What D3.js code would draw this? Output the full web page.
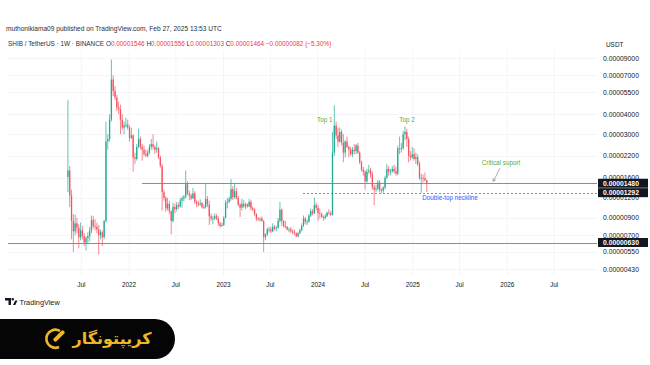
<!DOCTYPE html>
<html><head><meta charset="utf-8">
<script src="https://cdn.jsdelivr.net/npm/d3@7"></script>
<style>html,body{margin:0;padding:0;background:#fff;overflow:hidden}svg{display:block;font-family:"Liberation Sans",Arial,sans-serif}</style>
</head><body>
<svg id="chart" width="650" height="365"></svg>
<script>
// ---------- DATA (prices in millionths of USDT, weekly candles from first week) ----------
const firstWeek = "2021-05-10";
const priceUnit = 1e-6;
const opens = [16.2,17.8,12.4,8.6,7.4,8.3,7.8,6.8,7.5,6.9,6.3,6.7,6.9,7.5,8.7,8.0,7.9,7.6,7.0,7.3,
6.8,8.6,27,28,37,66,56,51,44,43,37,33,34,34.5,33,28.5,29.5,21.5,21,25,
28,25,24,22.5,22,23,25,26,25,24,24.5,21.5,19,13,12,10.3,11,9.9,8.6,10.5,
10.2,10.8,10.6,11.5,11.9,12.2,14.6,12.7,12.4,11.9,12.8,11.3,11,10.9,11.1,10.5,10.5,11.8,10.9,9.2,
8.9,8.9,9.2,8.9,8.3,8.0,8.1,9.0,11.2,11.3,11.8,13.6,12.1,13.2,12.0,10.9,10.4,11.0,10.6,10.9,
10.6,11.3,10.3,10.1,9.5,8.9,8.8,8.9,8.6,6.8,7.1,7.6,7.6,7.4,7.9,7.7,7.8,8.6,10.1,8.6,
8.0,7.9,7.6,7.6,7.4,7.3,7.2,6.9,7.2,7.5,8.0,8.9,8.5,8.5,9.3,9.9,9.6,10.8,10.4,9.6,
9.5,9.1,9.0,9.2,9.7,9.6,9.4,23,34,29.5,27,31,26.5,23,27,25,24,22.5,24,23.5,
25.5,23,20,18,17.5,15.2,17.5,17.8,16.8,14,13.5,13.7,15,13.4,13.3,13.9,16,18.2,17.4,17.5,
18.2,17.6,17,24.5,24.2,24.6,30,31,28,22,21.5,22.5,21,21.5,19.5,16,16,15.9,15.46];
const highs = [49,19.0,13.5,9.5,9.4,9.0,8.2,8.4,8.0,7.2,6.9,7.3,7.9,9.3,9.2,8.8,8.4,8.1,7.6,7.5,
8.7,36,30,40,88,70,60,53,48,46,40,36,38,37,34,33,30,23,26,32.5,
29,26,25.5,24,24,26,28,30,25.5,27,25,22,19.5,13.5,12.3,12,11.5,10,11.2,11,
11.3,11.2,12,12.3,12.5,17.8,15.2,13.3,12.8,13.8,13.2,11.6,11.5,11.7,11.3,10.9,14.6,12.3,11.5,9.6,
9.3,9.6,9.5,9.2,8.5,8.4,9.2,11.6,12,12.2,15.7,14.2,14.7,13.8,12.3,11.1,11.8,11.6,11.2,11.1,
11.8,11.6,10.6,10.3,9.6,9.1,9.0,9.2,8.7,7.2,7.8,7.9,7.9,8.3,8.1,8.0,9.0,11.3,10.3,8.7,
8.6,8.0,7.8,7.9,7.6,7.6,7.3,7.3,7.7,8.3,9.3,9.1,8.8,9.5,10.3,10.2,12.0,11.2,10.8,10.3,
9.7,9.3,9.5,9.8,10.2,9.9,31,45.5,36,33,33,32,30,27.5,29,25.5,25,25,26,26,
26.5,23.5,20.5,18.7,17.8,18.2,19.3,18.5,17.5,14.5,14.5,15.5,15.5,13.8,14.2,16.5,19.5,18.9,18.2,19,
19.3,18.8,25.5,29,26.5,31.5,33.5,32.5,29,23.5,25,24.5,23,22.5,20.3,17,16.8,17.3,15.56];
const lows = [13.0,10.5,6.6,5.5,7.0,7.2,5.8,6.5,6.6,6.0,5.6,6.2,6.4,7.2,7.7,7.5,7.2,5.3,6.6,6.0,
6.6,8.4,24,27,36,52,49,42,40,30,32,30,33,32,27,28,17.5,19.5,20.5,24.5,
24,20.5,22,21.5,21.5,22.5,24,24,22.5,23,21,18.5,10,11.5,9.8,10,9.5,7.1,8.4,9.6,
9.9,10.2,10.4,10.4,11.4,11.9,12.5,11.6,11.6,11.8,11,10.5,10.6,10.7,10.3,10.2,10.3,10.5,8.1,8.6,
8.2,8.7,8.7,8.0,7.8,7.9,8.0,8.9,10.3,11.1,11.5,11.6,11.8,11.7,10.6,9.1,10.0,10.4,10.2,10.4,
10.5,10.0,9.9,9.2,8.6,8.6,8.5,8.5,5.5,6.5,6.9,7.3,7.2,7.3,7.5,7.4,7.7,8.4,8.0,7.8,
7.7,7.5,7.3,7.2,7.1,7.0,6.8,6.8,7.1,7.4,7.9,8.2,8.1,8.4,9.1,9.3,9.5,10.0,8.6,8.9,
9.0,8.6,8.8,9.1,9.4,9.2,9.3,22,28,25,26.5,25.5,20,21.5,24.5,21.5,22,21.5,22.5,22.5,
22.5,19.5,17.5,16.5,13.5,14.9,17,16,13.5,10.8,13,13.4,13,12.8,12.9,13.5,15.8,16.5,16.6,17.3,
17,16.5,16.6,22.5,23,24,27.5,25,20,20.5,21,20.5,19.5,19,15.5,12.9,15,15.2,13.03];
const closes = [17.8,12.4,8.6,7.4,8.3,7.8,6.8,7.5,6.9,6.3,6.7,6.9,7.5,8.7,8.0,7.9,7.6,7.0,7.3,6.8,
8.6,27,28,37,66,56,51,44,43,37,33,34,34.5,33,28.5,29.5,21.5,21,25,28,
25,24,22.5,22,23,25,26,25,24,24.5,21.5,19,13,12,10.3,11,9.9,8.6,10.5,10.2,
10.8,10.6,11.5,11.9,12.2,14.6,12.7,12.4,11.9,12.8,11.3,11,10.9,11.1,10.5,10.5,11.8,10.9,9.2,8.9,
8.9,9.2,8.9,8.3,8.0,8.1,9.0,11.2,11.3,11.8,13.6,12.1,13.2,12.0,10.9,10.4,11.0,10.6,10.9,10.6,
11.3,10.3,10.1,9.5,8.9,8.8,8.9,8.6,6.8,7.1,7.6,7.6,7.4,7.9,7.7,7.8,8.6,10.1,8.6,8.0,
7.9,7.6,7.6,7.4,7.3,7.2,6.9,7.2,7.5,8.0,8.9,8.5,8.5,9.3,9.9,9.6,10.8,10.4,9.6,9.5,
9.1,9.0,9.2,9.7,9.6,9.4,23,34,29.5,27,31,26.5,23,27,25,24,22.5,24,23.5,25.5,
23,20,18,17.5,15.2,17.5,17.8,16.8,14,13.5,13.7,15,13.4,13.3,13.9,16,18.2,17.4,17.5,18.2,
17.6,17,24.5,24.2,24.6,30,31,28,22,21.5,22.5,21,21.5,19.5,16,16,15.9,15.46,14.64];

const yTickValues = [0.00009, 0.00007, 0.000055, 0.00004, 0.00003, 0.000022, 0.000016, 0.000012, 0.000009, 0.000007, 0.0000055, 0.0000043];
const xTickDates = ["2021-07-01","2022-01-01","2022-07-01","2023-01-01","2023-07-01","2024-01-01","2024-07-01","2025-01-01","2025-07-01","2026-01-01","2026-07-01"];
const xTickLabels = ["Jul","2022","Jul","2023","Jul","2024","Jul","2025","Jul","2026","Jul"];
const levelValues = [0.0000148, 0.00001292, 0.0000063];
const levelLabels = ["0.00001480", "0.00001292", "0.00000630"];
const levelStarts = ["2022-02-20", "2023-11-04", null];
const levelDashed = [false, true, false];

// ---------- BUILD ----------
const parse = d3.utcParse("%Y-%m-%d");
const t0 = parse(firstWeek);
const candles = closes.map((c, i) => ({
  date: d3.utcDay.offset(t0, 7 * i),
  o: opens[i] * priceUnit, h: highs[i] * priceUnit, l: lows[i] * priceUnit, c: c * priceUnit
}));

const svg = d3.select("#chart");
const plot = {left: 8, right: 597, top: 50, bottom: 276};
const x = d3.scaleUtc().domain([parse("2022-01-01"), parse("2024-01-01")]).range([129, 318]);
const y = d3.scaleLog().domain([0.00009, 0.0000043]).range([58, 269]);

const UP = "#22ab94", DOWN = "#f7525f";
const fmt = d => d3.format(".8f")(d);

svg.append("rect").attr("width", 650).attr("height", 365).attr("fill", "#fff");

// header
svg.append("text").attr("x", 6).attr("y", 31).attr("font-size", 6.6).attr("fill", "#2a2e39")
  .text("muthonikiama09 published on TradingView.com, Feb 27, 2025 13:53 UTC");
const hdr = svg.append("text").attr("x", 8).attr("y", 45.5).attr("font-size", 6.4).attr("fill", "#2a2e39");
hdr.append("tspan").text("SHIB / TetherUS · 1W · BINANCE  ");
const last = candles[candles.length - 1];
const prev = candles[candles.length - 2];
[["O", last.o], ["H", last.h], ["L", last.l], ["C", last.c]].forEach(([k, v]) => {
  hdr.append("tspan").text(" " + k);
  hdr.append("tspan").attr("fill", "#f23645").text(fmt(v));
});
const chg = last.c - prev.c;
hdr.append("tspan").attr("fill", "#f23645").text(" " + fmt(chg).replace("-", "−") + " (" + d3.format(".2f")(chg / prev.c * 100).replace("-", "−") + "%)");

// faint grid
const grid = svg.append("g");
xTickDates.forEach(d => grid.append("line").attr("x1", x(parse(d))).attr("x2", x(parse(d)))
  .attr("y1", plot.top).attr("y2", plot.bottom).attr("stroke", "#f4f5f8").attr("stroke-width", 1));
yTickValues.forEach(v => grid.append("line").attr("x1", plot.left).attr("x2", plot.right)
  .attr("y1", Math.round(y(v)) + 0.5).attr("y2", Math.round(y(v)) + 0.5).attr("stroke", "#f4f5f8"));

// clip
svg.append("clipPath").attr("id", "clip").append("rect")
  .attr("x", plot.left).attr("y", plot.top).attr("width", plot.right - plot.left).attr("height", plot.bottom - plot.top);

// horizontal levels
const lv = svg.append("g").attr("clip-path", "url(#clip)");
levelValues.forEach((v, i) => {
  const yy = Math.round(y(v)) + 0.5;
  lv.append("line").attr("x1", levelStarts[i] ? x(parse(levelStarts[i])) : plot.left).attr("x2", plot.right)
    .attr("y1", yy).attr("y2", yy).attr("stroke", "#8a8d96").attr("stroke-width", 1)
    .attr("stroke-dasharray", levelDashed[i] ? "2,2" : null);
});

// candles
const cg = svg.append("g").attr("clip-path", "url(#clip)");
const bw = 1.3;
cg.selectAll("line.wick").data(candles).join("line").attr("class", "wick")
  .attr("x1", d => x(d.date)).attr("x2", d => x(d.date))
  .attr("y1", d => y(d.h)).attr("y2", d => y(d.l))
  .attr("stroke", d => d.c >= d.o ? UP : DOWN).attr("stroke-width", 0.7);
cg.selectAll("rect.body").data(candles).join("rect").attr("class", "body")
  .attr("x", d => x(d.date) - bw / 2).attr("width", bw)
  .attr("y", d => y(Math.max(d.o, d.c)))
  .attr("height", d => Math.max(0.8, Math.abs(y(d.o) - y(d.c))))
  .attr("fill", d => d.c >= d.o ? UP : DOWN);

// annotations
const ann = svg.append("g").attr("font-size", 6.3).attr("text-anchor", "middle").attr("dominant-baseline", "central");
ann.append("text").attr("x", x(parse("2024-01-27"))).attr("y", y(0.0000372)).attr("fill", "#4caf50").text("Top 1");
ann.append("text").attr("x", x(parse("2024-12-10"))).attr("y", y(0.0000372)).attr("fill", "#4caf50").text("Top 2");
ann.append("text").attr("x", x(parse("2025-12-08"))).attr("y", y(0.0000199)).attr("fill", "#4caf50").text("Critical suport");
ann.append("text").attr("x", x(parse("2025-05-25"))).attr("y", y(0.0000121)).attr("fill", "#2962ff").text("Double-top neckline");
// arrow
const ax1 = x(parse("2025-12-04")), ay1 = y(0.0000184);
const ax2 = x(parse("2025-11-08")), ay2 = y(0.0000152);
svg.append("line").attr("x1", ax1).attr("y1", ay1).attr("x2", ax2).attr("y2", ay2).attr("stroke", "#8a8d96").attr("stroke-width", 0.7);
const ang = Math.atan2(ay2 - ay1, ax2 - ax1);
const ah = 3.2;
svg.append("path").attr("d", `M${ax2 + ah * Math.cos(ang + 2.6)},${ay2 + ah * Math.sin(ang + 2.6)} L${ax2},${ay2} L${ax2 + ah * Math.cos(ang - 2.6)},${ay2 + ah * Math.sin(ang - 2.6)}`)
  .attr("fill", "none").attr("stroke", "#8a8d96").attr("stroke-width", 0.7);

// price axis
const pa = svg.append("g").attr("font-size", 6.8).attr("fill", "#131722");
pa.append("text").attr("x", 606).attr("y", 44).attr("dominant-baseline", "central").attr("font-size", 6.4).text("USDT");
yTickValues.forEach(v => pa.append("text").attr("x", 603).attr("y", y(v)).attr("dominant-baseline", "central").text(fmt(v)));
levelValues.forEach((v, i) => {
  const yy = y(v);
  pa.append("rect").attr("x", 598).attr("y", yy - 4.5).attr("width", 50).attr("height", 9).attr("fill", "#131722");
  pa.append("text").attr("x", 603).attr("y", yy).attr("dominant-baseline", "central").attr("fill", "#fff")
    .attr("font-weight", "bold").text(levelLabels[i]);
});

// time axis
const ta = svg.append("g").attr("font-size", 6.4).attr("fill", "#131722").attr("text-anchor", "middle");
xTickDates.forEach((d, i) => ta.append("text").attr("x", x(parse(d))).attr("y", 284).attr("dominant-baseline", "central").text(xTickLabels[i]));

// TradingView logo
const lg = svg.append("g");
lg.append("path").attr("d", "M5,298 h6 v7 h-2.5 v-4.5 h-3.5z").attr("fill", "#131722");
lg.append("circle").attr("cx", 12.8).attr("cy", 299.3).attr("r", 1.2).attr("fill", "#131722");
lg.append("path").attr("d", "M13,305 l2.2,-4.5 h2.3 l-2.2,4.5z").attr("fill", "#131722");
lg.append("text").attr("x", 19.5).attr("y", 302).attr("dominant-baseline", "central").attr("font-size", 7.3).attr("fill", "#131722").text("TradingView");

// badge
const bd = svg.append("g");
bd.append("path").attr("d", "M0,319 H155 A20,20 0 0 1 155,359 H0 Z").attr("fill", "#050505");
const gold = "#f0b62a";
bd.append("path").attr("d", "M60,331 A9,9 0 1 0 59,347").attr("fill", "none").attr("stroke", gold).attr("stroke-width", 2.6);
bd.append("rect").attr("x", 52).attr("y", 334).attr("width", 14).attr("height", 4).attr("rx", 1.5)
  .attr("fill", gold).attr("transform", "rotate(-45 59 336)");
bd.append("text").attr("x", 112).attr("y", 338).attr("text-anchor", "middle").attr("dominant-baseline", "central")
  .attr("font-family", "'DejaVu Sans', 'Noto Sans', sans-serif").attr("font-weight", "bold").attr("font-size", 16)
  .attr("fill", gold).attr("direction", "rtl").text("کریپتونگار");
</script>
</body></html>
